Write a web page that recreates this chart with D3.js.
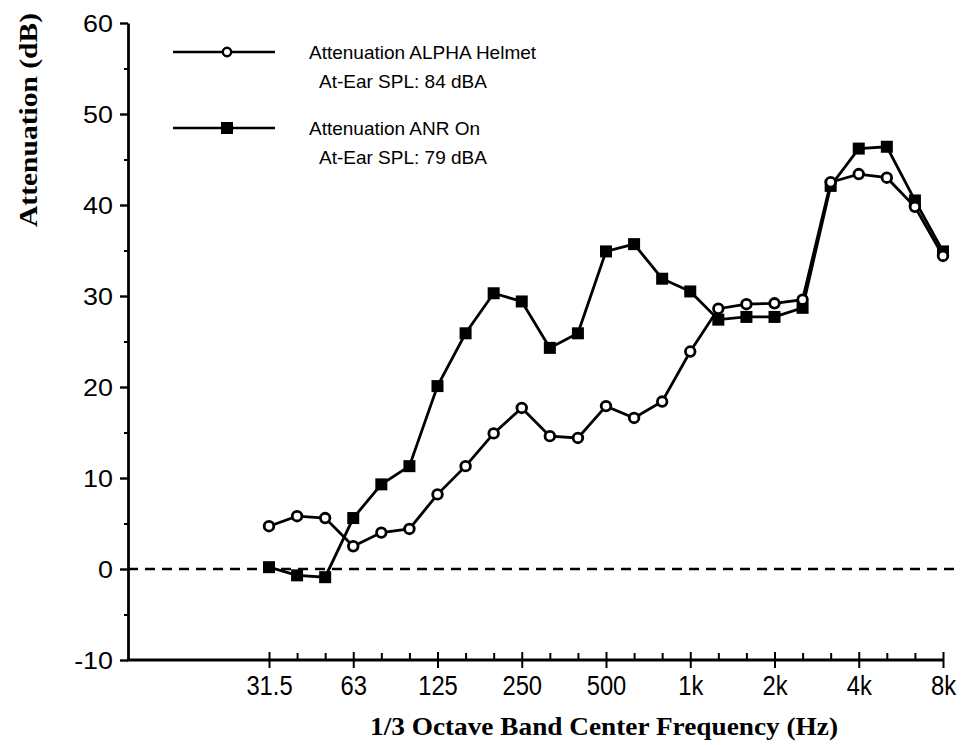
<!DOCTYPE html>
<html>
<head>
<meta charset="utf-8">
<script src="https://cdn.jsdelivr.net/npm/d3@7"></script>
<style>
  body { margin: 0; background: #fff; }
  svg { display: block; }
</style>
</head>
<body>
<svg id="chart" width="962" height="745"></svg>
<script>
// 1/3 octave band centre frequencies
const bands = ["31.5","40","50","63","80","100","125","160","200","250","315","400","500","630","800","1k","1.25k","1.6k","2k","2.5k","3.15k","4k","5k","6.3k","8k"];
const majorBands = ["31.5","63","125","250","500","1k","2k","4k","8k"];

// Attenuation ALPHA Helmet (dB) - open circles
const alphaHelmet = [4.7, 5.8, 5.6, 2.5, 4.0, 4.4, 8.2, 11.3, 14.9, 17.7, 14.6, 14.4, 17.9, 16.6, 18.4, 23.9, 28.6, 29.1, 29.2, 29.6, 42.5, 43.4, 43.0, 39.8, 34.4];
// Attenuation ANR On (dB) - filled squares
const anrOn = [0.2, -0.7, -0.9, 5.6, 9.3, 11.3, 20.1, 25.9, 30.3, 29.4, 24.3, 25.9, 34.9, 35.7, 31.9, 30.5, 27.4, 27.7, 27.7, 28.7, 42.1, 46.2, 46.4, 40.5, 34.9];

const yMajorTicks = [-10, 0, 10, 20, 30, 40, 50, 60];
const yMinorTicks = [-5, 5, 15, 25, 35, 45, 55];

const legendItems = [
  { name: "Attenuation ALPHA Helmet", sub: "At-Ear SPL: 84 dBA", marker: "circle" },
  { name: "Attenuation ANR On", sub: "At-Ear SPL: 79 dBA", marker: "square" }
];

const svg = d3.select("#chart");
const margin = { left: 128, top: 23, bottom: 660 };
const x = d3.scalePoint().domain(bands).range([269, 943]);
const y = d3.scaleLinear().domain([-10, 60]).range([margin.bottom, margin.top]);

const sans = "Arial, 'Liberation Sans', Helvetica, sans-serif";
const serif = "'Times New Roman', 'Liberation Serif', Times, serif";

// Y axis
const yAxis = svg.append("g").attr("transform", `translate(${margin.left},0)`)
  .call(d3.axisLeft(y).tickValues(yMajorTicks).tickSize(8).tickSizeOuter(0).tickPadding(7)
    .tickFormat(d => String(d)));
yAxis.select(".domain").attr("stroke-width", 2.8);
yAxis.selectAll(".tick line").attr("stroke-width", 2.4);
yAxis.selectAll(".tick text").attr("font-family", sans).attr("font-size", 24).attr("fill", "#000")
  .attr("dy", "0.36em").attr("x", -15 / 1.12).attr("transform", "scale(1.12,1)");

const yMinor = svg.append("g").attr("transform", `translate(${margin.left},0)`)
  .call(d3.axisLeft(y).tickValues(yMinorTicks).tickSize(4).tickSizeOuter(0).tickFormat(""));
yMinor.select(".domain").remove();
yMinor.selectAll(".tick line").attr("stroke-width", 2);

// X axis baseline
svg.append("line")
  .attr("x1", margin.left - 1).attr("x2", x.range()[1] + 1)
  .attr("y1", y(-10)).attr("y2", y(-10))
  .attr("stroke", "#000").attr("stroke-width", 2.8);

// X axis major ticks (crossing) with labels
const xMajor = svg.append("g").attr("transform", `translate(0,${y(-10)})`)
  .call(d3.axisBottom(x).tickValues(majorBands).tickSize(8).tickSizeOuter(0).tickPadding(8));
xMajor.select(".domain").remove();
xMajor.selectAll(".tick line").attr("y1", -8).attr("stroke-width", 2);
xMajor.selectAll(".tick text").attr("font-family", sans).attr("font-size", 27).attr("fill", "#000")
  .attr("transform", "scale(0.88,1)");

// X axis minor ticks (upward)
const xMinor = svg.append("g").attr("transform", `translate(0,${y(-10)})`)
  .call(d3.axisTop(x).tickValues(bands.filter(b => !majorBands.includes(b))).tickSize(7).tickSizeOuter(0).tickFormat(""));
xMinor.select(".domain").remove();
xMinor.selectAll(".tick line").attr("stroke-width", 2);

// Zero reference dashed line
svg.append("line")
  .attr("x1", margin.left).attr("x2", 955)
  .attr("y1", y(0)).attr("y2", y(0))
  .attr("stroke", "#000").attr("stroke-width", 2.6)
  .attr("stroke-dasharray", "10,7");

// Lines
const line = d3.line().x((d, i) => x(bands[i])).y(d => y(d));
svg.append("path").datum(anrOn).attr("d", line)
  .attr("fill", "none").attr("stroke", "#000").attr("stroke-width", 2.8);
svg.append("path").datum(alphaHelmet).attr("d", line)
  .attr("fill", "none").attr("stroke", "#000").attr("stroke-width", 2.8);

// Markers
const sq = 12;
svg.append("g").selectAll("rect").data(anrOn).join("rect")
  .attr("x", (d, i) => x(bands[i]) - sq / 2).attr("y", d => y(d) - sq / 2)
  .attr("width", sq).attr("height", sq).attr("fill", "#000");
svg.append("g").selectAll("circle").data(alphaHelmet).join("circle")
  .attr("cx", (d, i) => x(bands[i])).attr("cy", d => y(d)).attr("r", 4.8)
  .attr("fill", "#fff").attr("stroke", "#000").attr("stroke-width", 2.8);

// Legend
const legend = svg.append("g").attr("transform", "translate(173,52)");
legendItems.forEach((item, i) => {
  const g = legend.append("g").attr("transform", `translate(0,${i * 76})`);
  g.append("line").attr("x1", 0).attr("x2", 102).attr("y1", 0).attr("y2", 0)
    .attr("stroke", "#000").attr("stroke-width", 2.6);
  if (item.marker === "circle") {
    g.append("circle").attr("cx", 54).attr("cy", 0).attr("r", 4.2)
      .attr("fill", "#fff").attr("stroke", "#000").attr("stroke-width", 2.4);
  } else {
    g.append("rect").attr("x", 54 - 6).attr("y", -6).attr("width", 12).attr("height", 12).attr("fill", "#000");
  }
  g.append("text").attr("x", 136).attr("y", 7).text(item.name)
    .attr("font-family", sans).attr("font-size", 19).attr("fill", "#000");
  g.append("text").attr("x", 146).attr("y", 36).text(item.sub)
    .attr("font-family", sans).attr("font-size", 19).attr("fill", "#000");
});

// Axis titles
svg.append("text")
  .attr("transform", "translate(37,120) rotate(-90)")
  .attr("text-anchor", "middle")
  .attr("font-family", serif).attr("font-weight", "bold").attr("font-size", 26)
  .attr("textLength", 214).attr("lengthAdjust", "spacingAndGlyphs")
  .attr("fill", "#000")
  .text("Attenuation (dB)");

svg.append("text")
  .attr("x", 604).attr("y", 735)
  .attr("text-anchor", "middle")
  .attr("font-family", serif).attr("font-weight", "bold").attr("font-size", 25)
  .attr("textLength", 468).attr("lengthAdjust", "spacingAndGlyphs")
  .attr("fill", "#000")
  .text("1/3 Octave Band Center Frequency (Hz)");
</script>
</body>
</html>
